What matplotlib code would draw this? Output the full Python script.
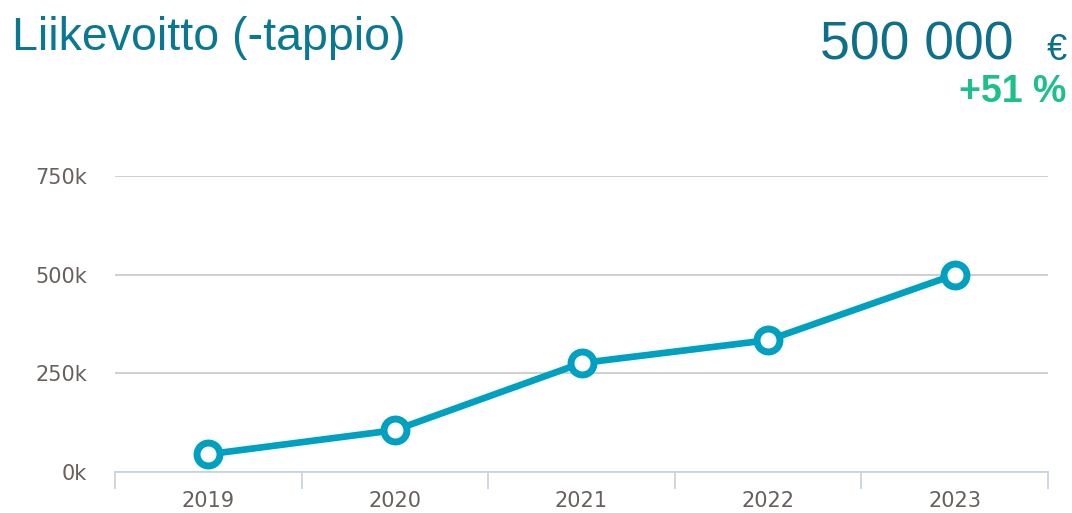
import matplotlib.pyplot as plt
from matplotlib.ticker import FuncFormatter, FixedLocator

# Data
vuodet = ['2019', '2020', '2021', '2022', '2023']
liikevoitto = [45000, 106000, 276000, 334000, 500000]
y_ticks = [0, 250000, 500000, 750000]

otsikko = 'Liikevoitto (-tappio)'
arvo_teksti = '500 000'
muutos_teksti = '+51 %'

def plot_chart():
    fig = plt.figure(figsize=(10.72, 5.13), dpi=100)
    ax = fig.add_axes([115 / 1072, 41 / 513, (1048 - 115) / 1072, (472 - 176) / 513])

    x = list(range(len(vuodet)))
    ax.plot(x, liikevoitto, color='#00a0c0', lw=4.8, marker='o', ms=16.5,
            mfc='white', mec='#00a0c0', mew=5, clip_on=False, zorder=5,
            solid_capstyle='round')

    ax.set_xlim(-0.5, len(vuodet) - 0.5)
    ax.set_ylim(0, 750000)

    # Y-akseli
    ax.set_yticks(y_ticks)
    ax.yaxis.set_major_formatter(FuncFormatter(lambda v, p: f'{int(v / 1000)}k'))
    ax.grid(axis='y', color='#cccccc', lw=1.3)
    ax.set_axisbelow(True)
    ax.tick_params(axis='y', length=0, pad=20, labelsize=15, labelcolor='#67605c')

    # X-akseli
    ax.set_xticks(x)
    ax.set_xticklabels(vuodet)
    ax.xaxis.set_minor_locator(FixedLocator([i - 0.5 for i in range(len(vuodet) + 1)]))
    ax.tick_params(axis='x', which='major', length=0, pad=14, labelsize=15,
                   labelcolor='#67605c')
    ax.tick_params(axis='x', which='minor', length=12, width=1.3, color='#c8d4e0')

    for s in ['top', 'left', 'right']:
        ax.spines[s].set_visible(False)
    ax.spines['bottom'].set_color('#c8d4e0')
    ax.spines['bottom'].set_linewidth(1.3)
    ax.spines['bottom'].set_zorder(3)

    # Otsikot
    fig.text(12 / 1072, 1 - 50 / 513, otsikko, fontsize=33.5, color='#0b7891',
             family='Liberation Sans', ha='left', va='baseline')
    fig.text(1013 / 1072, 1 - 60 / 513, arvo_teksti, fontsize=38.5, color='#0e6f8a',
             family='Liberation Sans', ha='right', va='baseline')
    fig.text(1067 / 1072, 1 - 60 / 513, '€', fontsize=26, color='#0e6f8a',
             family='Liberation Sans', ha='right', va='baseline')
    fig.text(1066 / 1072, 1 - 102 / 513, muutos_teksti, fontsize=27, color='#1dbf8a',
             family='Liberation Sans', weight='bold', ha='right', va='baseline')

    plt.savefig('out.png', dpi=100)

if __name__ == '__main__':
    plot_chart()
